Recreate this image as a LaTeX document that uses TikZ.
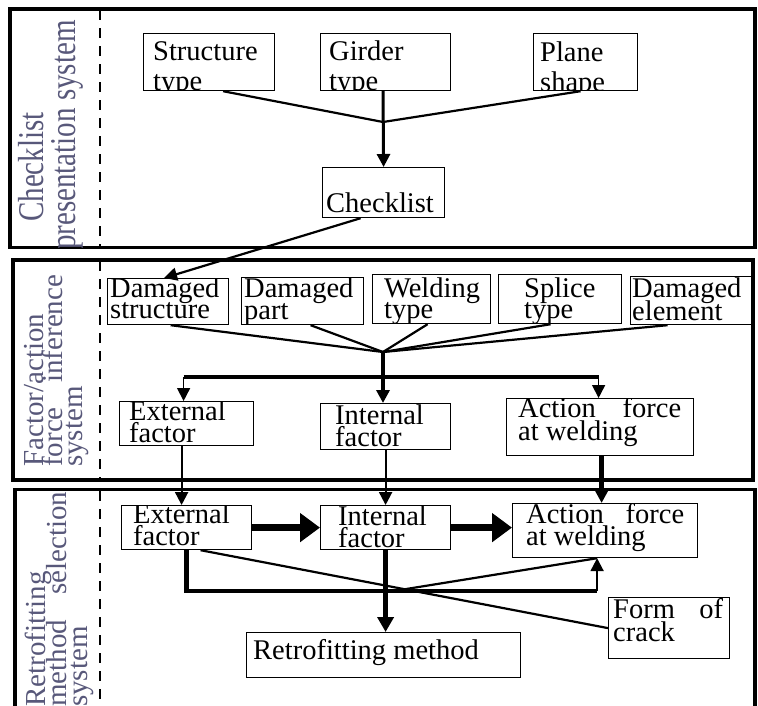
\documentclass[tikz,border=0pt]{standalone}
\usepackage{fontspec}
\setmainfont{Liberation Serif}
\usetikzlibrary{arrows.meta}

\definecolor{sidegray}{RGB}{88,88,122}

% two-line box text with a fixed baseline distance (lines may touch)
\newcommand{\twol}[3]{\parbox[t]{320pt}{\lineskiplimit=-\maxdimen\fontsize{28.5}{#1}\selectfont #2\\#3}}
% rotated system caption, set with a fixed baseline distance
\newcommand{\sidecap}[2]{\parbox[t]{320pt}{\lineskiplimit=-\maxdimen\fontsize{29}{#1}\selectfont #2}}

\tikzset{
  panel/.style={draw, line width=3.5pt},
  divider/.style={draw, line width=1.3pt, dash pattern=on 10pt off 8pt},
  box/.style={draw, line width=1.2pt, inner sep=0pt, anchor=north west},
  lbl/.style={anchor=base west, inner sep=0pt, minimum width=0pt, minimum height=0pt,
              font=\fontsize{28.5}{22}\selectfont},
  boxtext/.style n args={3}{path picture={\node[lbl, xshift=#1, yshift=#2] at (path picture bounding box.north west) {#3};}},
  side/.style={rotate=90, anchor=base west, inner sep=0pt, text=sidegray},
  feed/.style={line width=2.2pt},
  drop/.style={line width=1.6pt},
  trunk/.style={line width=3pt},
  trunkB/.style={line width=4.8pt},
  arrS/.style={-{Triangle[length=13pt,width=13pt]}},
  arrM/.style={-{Triangle[length=15pt,width=16pt]}},
  arrL/.style={line width=7pt, -{Triangle[length=20pt,width=28pt]}},
}

\begin{document}
\begin{tikzpicture}[x=1pt, y=-1pt]
\useasboundingbox (0,0) rectangle (758,705);

% ---------- panels and dashed dividers ----------
\draw[panel] (10,9) rectangle (755,247.5);
\draw[panel] (13,260) rectangle (753,480);
\draw[panel] (15,489.5) rectangle (755,725);
\draw[divider] (100,10) -- (100,246);
\draw[divider] (100,261) -- (100,479);
\draw[divider] (100,491) -- (100,705);

% ---------- system captions ----------
\begin{scope}
  \clip (10,9) rectangle (755,247.5);
  \node[side] (cap1) at (43,250) {\scalebox{1}[1.25]{\sidecap{26.4}{\hspace*{28pt}Checklist\\presentation system}}};
\end{scope}
\begin{scope}
  \clip (13,260) rectangle (753,480);
  \node[side] (cap2) at (43,467) {\sidecap{19.5}{Factor/action\\\makebox[192pt][s]{force inference}\\system}};
\end{scope}
\begin{scope}
  \clip (15,489.5) rectangle (755,705);
  \node[side] (cap3) at (45,707) {\sidecap{21.5}{Retrofitting\\\makebox[215pt][s]{method selection}\\system}};
\end{scope}

% ---------- checklist presentation ----------
\node[box, minimum width=131, minimum height=57, boxtext={9pt}{-27pt}{\twol{29.5}{Structure}{type}}] (st) at (143,33) {};
\node[box, minimum width=130, minimum height=57, boxtext={8pt}{-27pt}{\twol{29.5}{Girder}{type}}] (gt) at (320,33) {};
\node[box, minimum width=104, minimum height=57, boxtext={6pt}{-28pt}{\twol{29.5}{Plane}{shape}}] (ps) at (533,33) {};
\node[box, minimum width=122, minimum height=50, boxtext={3pt}{-45pt}{Checklist}] (cl) at (322,167) {};

% ---------- factor / action force inference ----------
\node[box, minimum width=121, minimum height=46, boxtext={2pt}{-19pt}{\twol{21}{Damaged}{structure}}] (ds) at (107,278) {};
\node[box, minimum width=122, minimum height=47, boxtext={2pt}{-20pt}{\twol{22}{Damaged}{part}}] (dp) at (241,277) {};
\node[box, minimum width=118, minimum height=49, boxtext={11pt}{-23pt}{\twol{21}{Welding}{type}}] (wt) at (372,274) {};
\node[box, minimum width=123, minimum height=49, boxtext={25pt}{-23pt}{\twol{21}{Splice}{type}}] (spt) at (498,274) {};
\node[box, minimum width=121, minimum height=48, boxtext={1pt}{-21pt}{\twol{23}{Damaged}{element}}] (de) at (630,276) {};

\node[box, minimum width=134, minimum height=44, boxtext={9pt}{-19pt}{\twol{22}{External}{factor}}] (ef) at (119,401) {};
\node[box, minimum width=130, minimum height=46, boxtext={14pt}{-21pt}{\twol{22}{Internal}{factor}}] (if) at (320,403) {};
\node[box, minimum width=187, minimum height=57, boxtext={11pt}{-19pt}{\twol{23}{\makebox[163pt][s]{Action force}}{at welding}}] (af) at (506,398) {};

% ---------- retrofitting method selection ----------
\node[box, minimum width=130, minimum height=44, boxtext={11pt}{-18pt}{\twol{22}{External}{factor}}] (ef2) at (121,505) {};
\node[box, minimum width=130, minimum height=44, boxtext={17pt}{-20pt}{\twol{22}{Internal}{factor}}] (if2) at (320,505) {};
\node[box, minimum width=185, minimum height=54, boxtext={13pt}{-20pt}{\twol{22}{\makebox[158pt][s]{Action force}}{at welding}}] (af2) at (512,503) {};
\node[box, minimum width=121, minimum height=61, boxtext={4pt}{-21pt}{\twol{23}{\makebox[110pt][s]{Form of}}{crack}}] (fc) at (608,597) {};
\node[box, minimum width=274, minimum height=45, boxtext={6pt}{-27pt}{Retrofitting method}] (rm) at (246,632) {};

% ---------- connectors: checklist ----------
\coordinate (j1) at (383,122);
\draw[feed] ([xshift=14pt]st.south) -- (j1);
\draw[feed] ([xshift=-5pt]ps.south) -- (j1);
\draw[trunk, arrS] (j1 |- gt.south) -- (cl.north);
\draw[feed, arrS] ([xshift=-23pt]cl.south) -- ([xshift=-4pt]ds.north);

% ---------- connectors: inference ----------
\coordinate (j2) at (383,352);
\draw[feed] ([xshift=2.5pt]ds.south) -- (j2);
\draw[feed] ([xshift=8pt]dp.south) -- (j2);
\draw[feed] ([xshift=-4pt]wt.south) -- (j2);
\draw[feed] ([xshift=-9.5pt]spt.south) -- (j2);
\draw[feed] ([xshift=-23.5pt]de.south) -- (j2);
\draw[trunkB, arrS] (j2) -- (j2 |- if.north);
\coordinate (b2) at (383,377);
\draw[trunkB] ([xshift=-3pt]ef.north |- b2) -- ([xshift=-1.5pt]af.north |- b2);
\draw[drop, arrS] ([xshift=-3pt]ef.north |- b2) -- ([xshift=-3pt]ef.north);
\draw[drop, arrS] ([xshift=-1.5pt]af.north |- b2) -- ([xshift=-1.5pt]af.north);

% ---------- connectors: between the systems ----------
\draw[feed, arrS] ([xshift=-5pt]ef.south) -- ([xshift=-5pt]ef.south |- ef2.north);
\draw[feed, arrS] (if.south) -- (if2.north);
\draw[trunkB, arrS] ([xshift=1.5pt]af.south) -- ([xshift=1.5pt]af.south |- af2.north);

% ---------- connectors: retrofitting ----------
\draw[arrL] (ef2.east) -- (if2.west);
\draw[arrL] (if2.east) -- (if2.east -| af2.west);
\coordinate (b3) at (385,591);
\draw[trunkB] (ef2.south) -- (ef2.south |- b3) -- ([xshift=-8pt]af2.south |- b3);
\draw[feed, arrS] ([xshift=-8pt]af2.south |- b3) -- ([xshift=-8pt]af2.south);
\draw[trunkB, arrM] (if2.south) -- (if2.south |- rm.north);
\draw[feed] ([xshift=14pt]ef2.south) -- (fc.west);
\coordinate (x3) at (400,590);
\draw[feed] (x3) -- ([xshift=-8pt]af2.south);
\end{tikzpicture}
\end{document}
